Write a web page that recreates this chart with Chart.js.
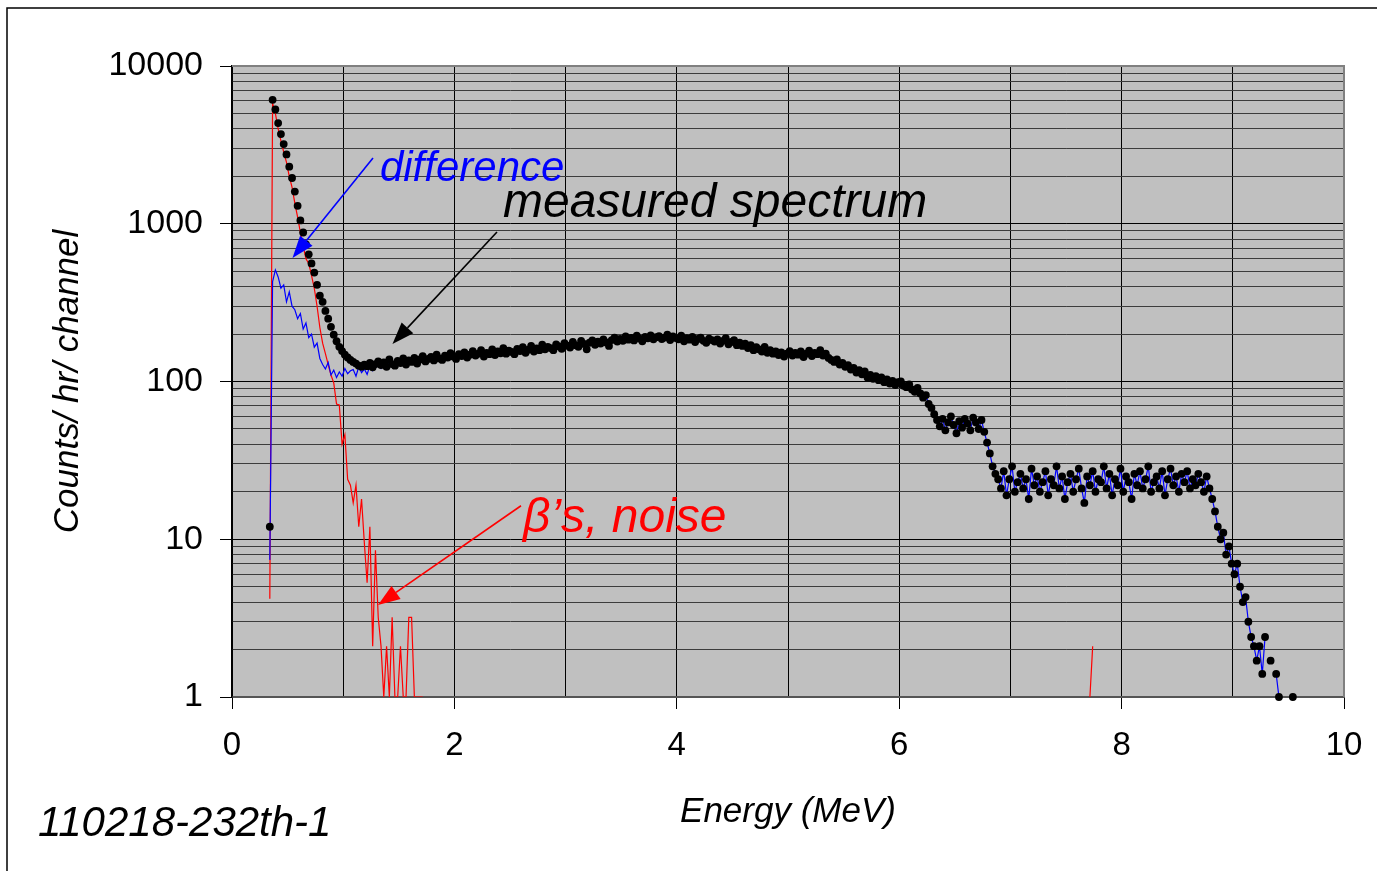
<!DOCTYPE html>
<html lang="en">
<head>
<meta charset="UTF-8">
<title>110218-232th-1 spectrum</title>
<script src="https://cdn.jsdelivr.net/npm/chart.js"></script>
<style>
    * { margin: 0; padding: 0; box-sizing: border-box; }
    body { background: #fff; width: 1377px; height: 871px; overflow: hidden; }
    canvas { display: block; }
</style>
</head>
<body>
<canvas id="spectrum" width="1377" height="871"></canvas>
<script>
// channel calibration (MeV)
const firstEnergy = 0.34;
const channelWidth = 0.025;

// measured spectrum, counts/hr/channel, one value per channel
const measured = [
    12, 6100, 5300, 4350, 3700, 3200, 2750, 2300, 1950, 1600,
    1300, 1050, 880, 740, 640, 560, 490, 410, 350, 320,
    280, 250, 222, 198, 180, 166, 156, 148, 142, 137,
    133, 130, 126, 124, 128, 125, 131, 123, 129, 134,
    127, 132, 124, 138, 129, 126, 135, 131, 140, 128,
    136, 133, 141, 130, 138, 145, 134, 139, 143, 136,
    148, 140, 137, 146, 142, 151, 144, 139, 149, 145,
    153, 142, 148, 156, 146, 150, 158, 144, 152, 149,
    160, 147, 155, 151, 163, 150, 157, 154, 149, 161,
    156, 165, 152, 159, 168, 155, 162, 158, 171, 160,
    166, 163, 158, 172, 167, 161, 175, 169, 164, 178,
    170, 166, 181, 173, 160, 176, 182, 171, 179, 174,
    185, 177, 168, 183, 190, 179, 186, 181, 193, 184,
    189, 182, 195, 187, 180, 192, 188, 196, 185, 191,
    194, 186, 190, 198, 183, 193, 189, 185, 195, 180,
    188, 184, 192, 178, 186, 190, 181, 176, 187, 183,
    179, 185, 174, 181, 188, 172, 178, 183, 170, 176,
    168, 174, 163, 170, 158, 165, 160, 155, 166, 152,
    158, 150, 155, 147, 153, 144, 150, 156, 146, 152,
    148, 155, 143, 150, 157, 145, 152, 149, 158, 146,
    150, 141, 137, 133, 138, 128, 131, 124, 127, 119,
    122, 114, 118, 111, 116, 106, 110, 104, 108, 102,
    106, 99, 103, 97, 101, 95, 99, 100, 94, 92,
    96, 89, 86, 91, 84, 79, 82, 72, 68, 62,
    57, 52, 58, 49, 55, 60, 53, 47, 56, 51,
    58, 54, 49, 59, 55, 50, 57, 48, 41, 35,
    29, 26, 24, 21, 27, 19, 24, 29, 20, 23,
    26, 21, 24, 18, 28, 22, 25, 20, 23, 27,
    19, 24, 22, 29, 21, 25, 18, 23, 26, 20,
    24, 28, 21, 17, 25, 22, 27, 20, 24, 23,
    29, 21, 26, 19, 24, 22, 28, 20, 25, 23,
    18, 26, 22, 27, 21, 24, 29, 20, 23, 25,
    21, 27, 19, 24, 28, 22, 25, 20, 26, 23,
    27, 21, 24, 22, 26, 23, 20, 25, 21, 18,
    15, 12, 10, 11, 8, 9, 7, 6, 7, 5,
    4, 4.3, 3, 2.4, 2.1, 1.7, 2.1, 1.4, 2.4, 0,
    1.7, 0, 1.4, 1, 0, 0, 0, 0, 1
];

// difference below 1.44 MeV; above that it equals the measured spectrum
const diffLow = [
    7.4, 430, 510, 460, 390, 410, 320, 370, 300, 285,
    250, 270, 215, 235, 190, 200, 165, 175, 140, 128,
    120, 132, 110, 118, 106, 115, 108, 121, 112, 117,
    119, 108, 124, 114, 120, 111, 126, 117, 122, 128,
    121, 129, 123, 134
];

// beta / noise part, 0 = nothing recorded
const noiseLow = [
    4.2, 5800, 5000, 4000, 3350, 2850, 2450, 2000, 1700, 1350,
    1100, 880, 720, 600, 560, 470, 390, 300, 220, 175,
    150, 128, 110, 98, 72, 71, 40, 46, 24, 22,
    17, 22, 12, 18, 9.5, 5.3, 12, 2.1, 8.5, 3.2,
    2.1, 1, 2.1, 1, 3.2, 1, 1, 2.1, 1, 1,
    3.2, 3.2, 1, 1, 1, 1
];
const noiseSpikeEnergy = [7.715, 7.74];
const noiseSpikeCounts = [1, 2.1];

const xLabelled = [0, 2, 4, 6, 8, 10];
const yDecades = [1, 10, 100, 1000, 10000];

const fontFamily = "'Liberation Sans', Arial, sans-serif";

const energyOf = i => +(firstEnergy + i * channelWidth).toFixed(3);
const difference = diffLow.concat(measured.slice(diffLow.length));

const measuredPts = measured.map((v, i) => ({ x: energyOf(i), y: v }));
const diffPts = difference.map((v, i) => ({ x: energyOf(i), y: v }));
const noisePts = noiseLow.map((v, i) => ({ x: energyOf(i), y: v > 0 ? v : null }))
    .concat([{ x: noiseSpikeEnergy[0] - channelWidth, y: null }])
    .concat(noiseSpikeEnergy.map((e, k) => ({ x: e, y: noiseSpikeCounts[k] })));

// log grid: every 1..9 step in each decade
const yGrid = [];
yDecades.forEach(d => {
    if (d === 10000) { yGrid.push(d); return; }
    for (let k = 1; k <= 9; k++) yGrid.push(d * k);
});
const isDecade = v => yDecades.includes(v);

// text + arrow callouts, placed in data units
const callouts = [
    { text: 'difference', color: '#0000ff', size: 42, at: [1.33, 1866], from: [1.268, 2612], to: [0.544, 607] },
    { text: 'measured spectrum', color: '#000000', size: 48, at: [2.437, 1104], from: [2.383, 887], to: [1.443, 173] },
    { text: '\u03b2\u2019s, noise', color: '#ff0000', size: 48, at: [2.617, 11.1], from: [2.599, 16.3], to: [1.313, 3.83] }
];

function drawArrow(ctx, x1, y1, x2, y2, color) {
    const ang = Math.atan2(y2 - y1, x2 - x1);
    const head = 22, half = 8;
    const bx = x2 - head * Math.cos(ang), by = y2 - head * Math.sin(ang);
    ctx.strokeStyle = color;
    ctx.fillStyle = color;
    ctx.lineWidth = 1.6;
    ctx.beginPath();
    ctx.moveTo(x1, y1);
    ctx.lineTo(bx, by);
    ctx.stroke();
    ctx.beginPath();
    ctx.moveTo(x2, y2);
    ctx.lineTo(bx + half * Math.sin(ang), by - half * Math.cos(ang));
    ctx.lineTo(bx - half * Math.sin(ang), by + half * Math.cos(ang));
    ctx.closePath();
    ctx.fill();
}

const backdrop = {
    id: 'backdrop',
    beforeDraw(chart) {
        const { ctx, chartArea: a } = chart;
        ctx.save();
        ctx.fillStyle = '#fff';
        ctx.fillRect(0, 0, chart.width, chart.height);
        ctx.strokeStyle = '#000';
        ctx.lineWidth = 1.5;
        ctx.strokeRect(7, 8, chart.width + 10, chart.height + 10);
        ctx.fillStyle = '#c0c0c0';
        ctx.fillRect(a.left, a.top, a.right - a.left, a.bottom - a.top);
        ctx.restore();
    },
    beforeDatasetsDraw(chart) {
        const { ctx, chartArea: a } = chart;
        ctx.save();
        ctx.strokeStyle = '#808080';
        ctx.lineWidth = 2;
        ctx.beginPath();
        ctx.moveTo(a.left, a.top);
        ctx.lineTo(a.right, a.top);
        ctx.lineTo(a.right, a.bottom);
        ctx.stroke();
        ctx.restore();
    },
    afterDatasetsDraw(chart) {
        const { ctx, scales: { x, y } } = chart;
        ctx.save();
        callouts.forEach(c => {
            drawArrow(ctx, x.getPixelForValue(c.from[0]), y.getPixelForValue(c.from[1]),
                x.getPixelForValue(c.to[0]), y.getPixelForValue(c.to[1]), c.color);
            ctx.fillStyle = c.color;
            ctx.font = `italic ${c.size}px ${fontFamily}`;
            ctx.textAlign = 'left';
            ctx.textBaseline = 'alphabetic';
            ctx.fillText(c.text, x.getPixelForValue(c.at[0]), y.getPixelForValue(c.at[1]));
        });
        ctx.fillStyle = '#000';
        ctx.font = `italic 42px ${fontFamily}`;
        ctx.fillText('110218-232th-1', 38, 836);
        ctx.restore();
    }
};

new Chart(document.getElementById('spectrum'), {
    type: 'line',
    data: {
        datasets: [
            {
                label: 'measured spectrum',
                data: measuredPts,
                showLine: false,
                pointRadius: c => (c.raw && c.raw.y > 0) ? 3.9 : 0,
                pointBackgroundColor: '#000',
                pointBorderWidth: 0,
                clip: false,
                order: 1
            },
            {
                label: 'difference',
                data: diffPts,
                borderColor: '#0000ff',
                borderWidth: 1.2,
                pointRadius: 0,
                tension: 0,
                order: 2
            },
            {
                label: "beta's, noise",
                data: noisePts,
                borderColor: '#ff0000',
                borderWidth: 1.2,
                pointRadius: 0,
                tension: 0,
                spanGaps: false,
                order: 3
            }
        ]
    },
    options: {
        responsive: false,
        animation: false,
        devicePixelRatio: 1,
        layout: { padding: { top: 66, right: 33, left: 0, bottom: 0 } },
        plugins: { legend: { display: false }, tooltip: { enabled: false } },
        scales: {
            x: {
                type: 'linear',
                min: 0,
                max: 10,
                afterFit: s => { s.height = 174; s.paddingRight = 0; s.paddingLeft = 0; },
                ticks: {
                    stepSize: 1,
                    autoSkip: false,
                    maxRotation: 0,
                    padding: 17,
                    color: '#000',
                    font: { family: fontFamily, size: 33 },
                    callback: v => xLabelled.includes(v) ? String(v) : ''
                },
                grid: {
                    color: '#000',
                    lineWidth: 1,
                    tickLength: 12,
                    tickColor: c => xLabelled.includes(c.tick.value) ? '#000' : 'rgba(0,0,0,0)'
                },
                border: { color: '#555', width: 2 },
                title: {
                    display: true,
                    text: 'Energy (MeV)',
                    color: '#000',
                    font: { family: fontFamily, size: 35, style: 'italic' },
                    padding: { top: 0, bottom: 38 }
                }
            },
            y: {
                type: 'logarithmic',
                min: 1,
                max: 10000,
                afterFit: s => { s.width = 232; },
                afterBuildTicks: s => { s.ticks = yGrid.map(v => ({ value: v })); },
                ticks: {
                    autoSkip: false,
                    padding: 17,
                    color: '#000',
                    font: { family: fontFamily, size: 34 },
                    callback: v => isDecade(v) ? String(v) : ''
                },
                grid: {
                    color: c => isDecade(c.tick.value) ? '#000' : '#3c3c3c',
                    lineWidth: 1,
                    tickLength: 12,
                    tickColor: c => isDecade(c.tick.value) ? '#000' : 'rgba(0,0,0,0)'
                },
                border: { color: '#000', width: 1.5 },
                title: {
                    display: true,
                    text: 'Counts/ hr/ channel',
                    color: '#000',
                    font: { family: fontFamily, size: 35, style: 'italic' },
                    padding: { top: 47, bottom: 0 }
                }
            }
        }
    },
    plugins: [backdrop]
});
</script>
</body>
</html>
